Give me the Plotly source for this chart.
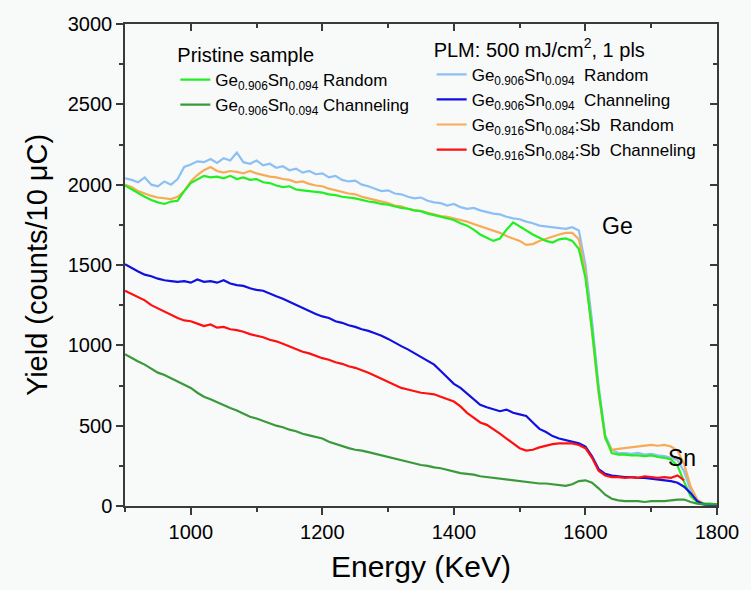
import plotly.graph_objects as go

energy = list(range(900, 1801, 10))

pristine_random = [1995,1970,1945,1925,1905,1890,1880,1895,1900,1960,
 2010,2035,2055,2045,2050,2040,2055,2035,2045,2030,
 2035,2015,2010,1995,1985,1990,1970,1965,1960,1955,
 1950,1940,1935,1925,1920,1915,1905,1895,1890,1880,
 1875,1865,1855,1850,1840,1835,1820,1810,1800,1790,
 1780,1760,1745,1720,1690,1670,1650,1665,1720,1765,
 1740,1710,1690,1670,1650,1640,1660,1665,1650,1600,
 1420,1100,720,430,330,320,320,315,315,310,
 315,305,300,290,250,150,60,25,15,15,10]

pristine_channeling = [945,920,900,880,855,830,815,795,780,760,
 735,705,680,665,645,630,610,595,575,555,
 545,530,515,500,490,475,465,450,440,430,
 420,400,385,370,360,350,345,335,325,315,
 305,295,285,275,265,255,250,240,235,225,
 215,205,200,195,185,180,175,170,165,160,
 155,150,145,140,140,135,130,125,135,155,
 160,145,110,70,45,35,30,30,30,25,
 30,30,30,35,40,40,25,15,10,10,10]

plm_gesn_random = [2040,2030,2015,2045,2000,1990,2020,2000,2035,2110,
 2125,2145,2140,2160,2135,2165,2150,2200,2140,2130,
 2150,2120,2130,2105,2115,2090,2100,2075,2085,2065,
 2070,2045,2055,2030,2020,2025,2000,1990,1975,1960,
 1965,1945,1940,1925,1915,1920,1900,1890,1885,1870,
 1880,1860,1850,1855,1840,1830,1820,1815,1800,1790,
 1785,1770,1760,1745,1740,1735,1730,1725,1735,1715,
 1500,1150,750,440,350,330,330,325,330,320,
 325,315,310,300,285,215,95,30,10,5,5]

plm_gesn_channeling = [1505,1480,1460,1440,1430,1415,1405,1400,1395,1400,
 1390,1410,1395,1400,1390,1405,1385,1375,1370,1355,
 1345,1340,1320,1305,1290,1270,1250,1235,1215,1195,
 1180,1170,1150,1140,1125,1115,1100,1090,1075,1060,
 1040,1015,995,975,950,925,900,880,840,800,
 760,735,700,660,630,615,600,590,600,580,
 570,560,520,480,460,435,420,410,400,390,
 370,310,230,200,190,185,180,180,175,175,
 170,165,160,155,145,120,80,30,10,5,5]

plm_sb_random = [2000,1985,1960,1945,1930,1920,1915,1910,1925,1960,
 2020,2060,2090,2110,2085,2075,2085,2080,2070,2085,
 2070,2060,2050,2045,2035,2030,2015,2020,2005,1995,
 1990,1975,1965,1955,1945,1940,1925,1915,1905,1895,
 1885,1870,1865,1850,1840,1835,1825,1815,1805,1800,
 1790,1780,1770,1755,1740,1725,1710,1700,1680,1665,
 1650,1625,1630,1650,1665,1680,1690,1700,1700,1660,
 1450,1080,700,420,350,355,360,365,370,375,
 380,375,380,370,345,260,120,40,15,5,5]

plm_sb_channeling = [1340,1320,1300,1280,1250,1230,1210,1185,1170,1155,
 1150,1135,1120,1130,1110,1115,1100,1095,1085,1070,
 1060,1050,1035,1025,1010,995,980,960,950,935,
 920,910,895,885,870,860,845,830,810,790,
 770,750,735,725,715,705,700,695,680,665,
 650,620,580,550,520,505,480,450,420,390,
 360,345,350,365,375,385,390,390,390,380,
 360,300,220,190,180,180,175,180,175,185,
 180,175,180,175,190,160,None,None,None,None,None]

series_names = [
    "Ge<sub>0.906</sub>Sn<sub>0.094</sub> Random",
    "Ge<sub>0.906</sub>Sn<sub>0.094</sub> Channeling",
    "Ge<sub>0.906</sub>Sn<sub>0.094</sub>  Random",
    "Ge<sub>0.906</sub>Sn<sub>0.094</sub>  Channeling",
    "Ge<sub>0.916</sub>Sn<sub>0.084</sub>:Sb  Random",
    "Ge<sub>0.916</sub>Sn<sub>0.084</sub>:Sb  Channeling",
]
series_values = [pristine_random, pristine_channeling, plm_gesn_random,
                 plm_gesn_channeling, plm_sb_random, plm_sb_channeling]
series_colors = ["#22ee22", "#3a9a3a", "#8cc0f2", "#1010e0", "#f9aa55", "#ff1010"]
series_legend = ["legend", "legend", "legend2", "legend2", "legend2", "legend2"]

FONT = "Liberation Sans, Arial, sans-serif"
AXIS_COLOR = "#3a3a3a"

fig = go.Figure()
order = [2, 4, 0, 3, 5, 1]
for k, i in enumerate(order):
    last = (k == len(order) - 1)
    fig.add_trace(go.Scatter(
        x=energy, y=series_values[i], mode="lines", name=series_names[i],
        line=dict(color=series_colors[i], width=2.2),
        legend=series_legend[i], legendrank=i + 1,
        xaxis="x2" if last else "x", yaxis="y2" if last else "y",
    ))

fig.add_annotation(x=1648, y=1745, text="Ge", showarrow=False,
                   font=dict(family=FONT, size=23, color="black"))
fig.add_annotation(x=1747, y=300, text="Sn", showarrow=False,
                   font=dict(family=FONT, size=23, color="black"))

ax = dict(showline=True, linecolor=AXIS_COLOR, linewidth=1.5, showgrid=False,
          zeroline=False, tickcolor=AXIS_COLOR, ticklen=7, tickwidth=1.5,
          fixedrange=True)

fig.update_layout(
    width=751, height=590,
    margin=dict(l=125, r=26, t=24, b=80),
    paper_bgcolor="#f8f9f9", plot_bgcolor="#f8f9f9",
    font=dict(family=FONT, color="black"),
    xaxis=dict(range=[900, 1800], tick0=1000, dtick=200, ticks="outside",
               minor=dict(dtick=100, ticks="outside", ticklen=4, tickwidth=1.5,
                          tickcolor=AXIS_COLOR),
               tickfont=dict(size=20),
               title=dict(text="Energy (KeV)", font=dict(size=30), standoff=14), **ax),
    yaxis=dict(range=[0, 3000], dtick=500, ticks="outside",
               minor=dict(dtick=250, ticks="outside", ticklen=4, tickwidth=1.5,
                          tickcolor=AXIS_COLOR),
               tickfont=dict(size=20),
               title=dict(text="Yield (counts/10 μC)", font=dict(size=29), standoff=12), **ax),
    xaxis2=dict(range=[900, 1800], overlaying="x", side="top", anchor="y2",
                tick0=1000, dtick=200, ticks="inside", showticklabels=False,
                minor=dict(dtick=100, ticks="inside", ticklen=4, tickwidth=1.5,
                           tickcolor=AXIS_COLOR), **ax),
    yaxis2=dict(range=[0, 3000], overlaying="y", side="right", anchor="x2",
                dtick=500, ticks="inside", showticklabels=False,
                minor=dict(dtick=250, ticks="inside", ticklen=4, tickwidth=1.5,
                           tickcolor=AXIS_COLOR), **ax),
    legend=dict(x=0.085, y=0.975, xanchor="left", yanchor="top",
                bgcolor="rgba(0,0,0,0)", itemwidth=30,
                title=dict(text="Pristine sample", font=dict(size=20)),
                font=dict(size=17), tracegroupgap=0),
    legend2=dict(x=0.518, y=0.986, xanchor="left", yanchor="top",
                 bgcolor="rgba(0,0,0,0)", itemwidth=30,
                 title=dict(text="PLM: 500 mJ/cm<sup>2</sup>, 1 pls", font=dict(size=20)),
                 font=dict(size=17), tracegroupgap=0),
    showlegend=True,
)

fig.write_html("out.html", config={"displayModeBar": False},
               post_script="document.body.style.margin='0';")
